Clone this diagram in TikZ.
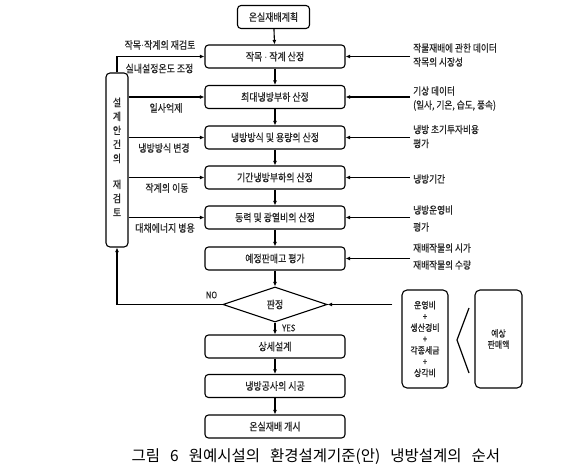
\documentclass[tikz,border=0pt]{standalone}
\usepackage{fontspec}
\usetikzlibrary{shapes.geometric,arrows.meta,calc}
\newfontfamily\kr[FakeStretch=0.85,FakeBold=0.6]{Noto Sans CJK KR}
\newfontfamily\krcap{Noto Sans CJK KR}
\begin{document}
\begin{tikzpicture}[x=1pt,y=-1pt,
  every node/.style={inner sep=0pt,text=black!85},
  ln/.style={line width=1.1pt},
  arr/.style={ln,-{Latex[length=4.5pt,width=4pt]}},
  mainbox/.style={draw=black,ln,rounded corners=3.5pt,minimum width=140pt,minimum height=23pt,font=\kr\fontsize{10.5}{12}\selectfont},
  sidebox/.style={draw=black,ln,rounded corners=5pt,minimum width=46pt,minimum height=98pt},
  lefttxt/.style={font=\kr\fontsize{10.5}{12}\selectfont},
  righttxt/.style={anchor=west,inner xsep=3pt,align=left,font=\kr\fontsize{10.2}{14}\selectfont},
  smalltxt/.style={font=\kr\fontsize{9.3}{11.3}\selectfont,align=center}
]
\useasboundingbox (0,0) rectangle (570,476);

% main column
\node[mainbox,minimum width=72pt] (m0) at (273.5,17) {온실재배계획};
\node[mainbox] (m1) at (275,56.5) {작목 $\cdot$ 작계 산정};
\node[mainbox] (m2) at (275,97) {최대냉방부하 산정};
\node[mainbox] (m3) at (275,137.5) {냉방방식 및 용량의 산정};
\node[mainbox] (m4) at (275,177.5) {기간냉방부하의 산정};
\node[mainbox] (m5) at (275,217.5) {동력 및 광열비의 산정};
\node[mainbox] (m6) at (275,258.5) {예정판매고 평가};
\node[draw=black,ln,diamond,aspect=2.97,minimum width=104pt,minimum height=35pt,font=\kr\fontsize{10.5}{12}\selectfont] (d) at (275,304.5) {판정};
\node[mainbox] (m7) at (275,346.5) {상세설계};
\node[mainbox] (m8) at (275,386) {냉방공사의 시공};
\node[mainbox] (m9) at (275,426.5) {온실재배 개시};

\draw[arr] (m0) -- (m1);
\draw[arr] (m1) -- (m2);
\draw[arr] (m2) -- (m3);
\draw[arr] (m3) -- (m4);
\draw[arr] (m4) -- (m5);
\draw[arr] (m5) -- (m6);
\draw[arr] (m6) -- (d);
\draw[arr] (d) -- (m7);
\draw[arr] (m7) -- (m8);
\draw[arr] (m8) -- (m9);

% left review box
\node[draw=black,ln,rounded corners=4pt,minimum width=22pt,minimum height=174pt] (lb) at (117,160) {};
\node[font=\kr\fontsize{10.5}{14}\selectfont,align=center] (lbt) at (117,157) {설\\계\\안\\건\\의\\[12pt]재\\검\\토};

\draw[arr] (lb.north) |- (m1.west);
\draw[arr] (lb.east |- m2.west) -- (m2.west);
\draw[arr] (lb.east |- m3.west) -- (m3.west);
\draw[arr] (lb.east |- m4.west) -- (m4.west);
\draw[arr] (lb.east |- m5.west) -- (m5.west);
\draw[arr] (d.west) -| (lb.south);

\node[lefttxt] (l1a) at (160,45) {작목$\cdot$작계의 재검토};
\node[lefttxt] (l1b) at (159.5,68.5) {실내설정온도 조정};
\node[lefttxt] (l2) at (166,108) {일사억제};
\node[lefttxt] (l3) at (164,148) {냉방방식 변경};
\node[lefttxt] (l4) at (167,188) {작계의 이동};
\node[lefttxt] (l5) at (165,228) {대채에너지 병용};

\node[font=\kr\fontsize{9}{10}\selectfont] (no) at (211.5,295) {NO};
\node[font=\kr\fontsize{9}{10}\selectfont,anchor=west] (yes) at (282,328) {YES};

% right inputs
\node[righttxt] (r1) at (410,55) {작물재배에 관한 데이터\\작목의 시장성};
\node[righttxt] (r2) at (410,98.5) {기상 데이터\\(일사, 기온, 습도, 풍속)};
\node[righttxt] (r3) at (410,136.5) {냉방 초기투자비용\\평가};
\node[righttxt] (r4) at (410,179) {냉방기간};
\node[righttxt,font=\kr\fontsize{10.2}{17}\selectfont] (r5) at (410,218.5) {냉방운영비\\평가};
\node[righttxt,font=\kr\fontsize{10.2}{17}\selectfont] (r6) at (410,256.5) {재배작물의 시가\\재배작물의 수량};

\draw[arr] (r1.west |- m1.east) -- (m1.east);
\draw[arr] (r2.west |- m2.east) -- (m2.east);
\draw[arr] (r3.west |- m3.east) -- (m3.east);
\draw[arr] (r4.west |- m4.east) -- (m4.east);
\draw[arr] (r5.west |- m5.east) -- (m5.east);
\draw[arr] (r6.west |- m6.east) -- (m6.east);

% cost / sales boxes
\node[sidebox,smalltxt] (bA) at (425,339) {운영비\\+\\생산경비\\+\\각종세금\\+\\상각비};
\node[sidebox,smalltxt,minimum width=47pt] (bB) at (498.5,339) {예상\\판매액};
\draw[arr,shorten <=9pt] (bA.west |- d.east) -- (d.east);
\draw[line width=1.2pt] (469,308) -- (457,340) -- (469,373);

% caption
\node[font=\krcap\fontsize{15.5}{17}\selectfont,text=black] (cap) at (316,457) {그림\hspace{10pt}6\hspace{10pt}원예시설의\hspace{10pt}환경설계기준(안)\hspace{10pt}냉방설계의\hspace{10pt}순서};
\end{tikzpicture}
\end{document}
